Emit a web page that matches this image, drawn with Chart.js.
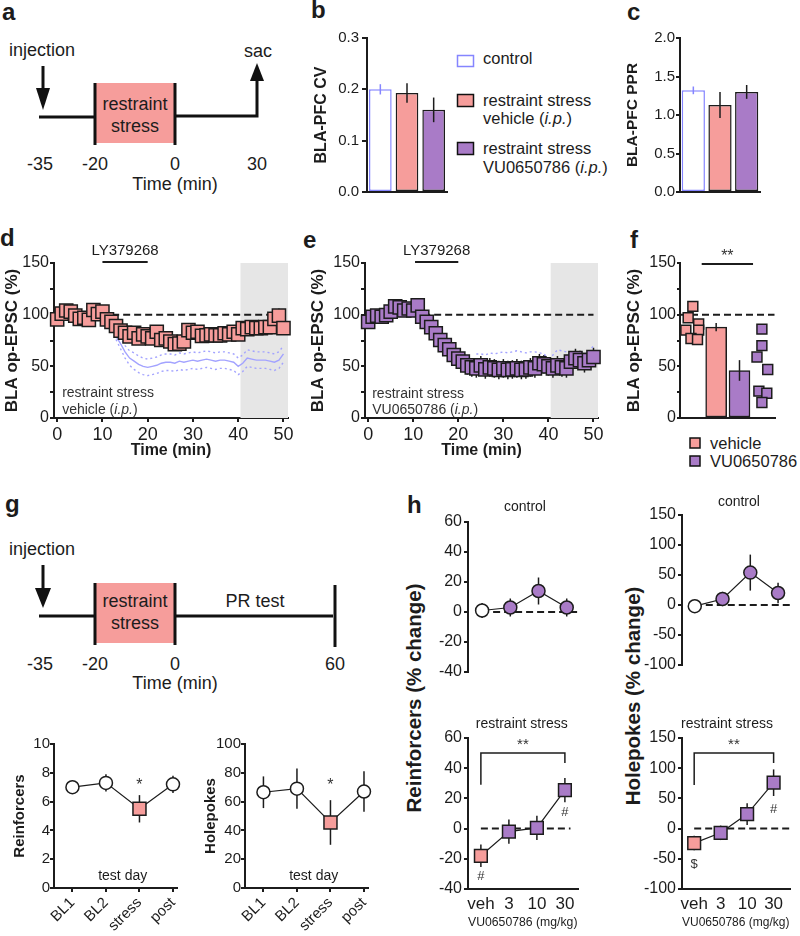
<!DOCTYPE html>
<html>
<head>
<meta charset="utf-8">
<script src="https://cdn.jsdelivr.net/npm/chart.js@4/dist/chart.umd.min.js"></script>
<style>
  body { margin: 0; background: #fff; }
  #page { position: relative; width: 800px; height: 936px; overflow: hidden; }
  .box { position: absolute; }
  svg text { font-family: 'Liberation Sans', Arial, sans-serif; fill: #1c1c1c; }
</style>
</head>
<body>
<div id="page">
<svg width="800" height="936" style="position:absolute;left:0;top:0">
  <!-- panel letters -->
  <g font-size="24" font-weight="bold">
    <text x="2" y="20">a</text>
    <text x="311" y="18">b</text>
    <text x="627" y="20">c</text>
    <text x="0" y="246">d</text>
    <text x="303" y="248">e</text>
    <text x="630" y="248">f</text>
    <text x="5" y="512">g</text>
    <text x="407" y="513">h</text>
  </g>

  <!-- a: timeline -->
  <rect x="96" y="83" width="79" height="60" fill="#f69d9b"/>
  <g stroke="#111" stroke-width="3" fill="none">
    <line x1="43" y1="66" x2="43" y2="92"/>
    <line x1="39" y1="117" x2="95" y2="117"/>
    <line x1="95" y1="83" x2="95" y2="145"/>
    <line x1="175" y1="83" x2="175" y2="145"/>
    <polyline points="175,116 257,116 257,78"/>
  </g>
  <polygon points="36,88 50,88 43,110" fill="#111"/>
  <polygon points="250,81 264,81 257,63" fill="#111"/>
  <g font-size="18" text-anchor="middle">
    <text x="42" y="56">injection</text>
    <text x="258" y="57">sac</text>
    <text x="135" y="110">restraint</text>
    <text x="135" y="132">stress</text>
    <text x="40" y="170">-35</text>
    <text x="95" y="170">-20</text>
    <text x="175" y="170">0</text>
    <text x="257" y="170">30</text>
    <text x="175" y="190">Time (min)</text>
  </g>

  <!-- b legend -->
  <g font-size="16.5">
    <rect x="457.5" y="55.5" width="16" height="11" fill="#fff" stroke="#8585ff" stroke-width="1.5"/>
    <text x="483" y="64">control</text>
    <rect x="457.5" y="94.5" width="16" height="12" fill="#f69d9b" stroke="#111" stroke-width="1.5"/>
    <text x="483" y="106">restraint stress</text>
    <text x="483" y="124">vehicle (<tspan font-style="italic">i.p.</tspan>)</text>
    <rect x="457.5" y="142.5" width="16" height="12" fill="#a97bc7" stroke="#111" stroke-width="1.5"/>
    <text x="483" y="154">restraint stress</text>
    <text x="483" y="173">VU0650786 (<tspan font-style="italic">i.p.</tspan>)</text>
  </g>

  <!-- f legend -->
  <g font-size="16.5">
    <rect x="690" y="438" width="10" height="10" fill="#f69d9b" stroke="#111" stroke-width="1.5"/>
    <text x="710" y="449">vehicle</text>
    <rect x="690" y="456" width="10" height="10" fill="#a97bc7" stroke="#111" stroke-width="1.5"/>
    <text x="710" y="467">VU0650786</text>
  </g>

  <!-- g: timeline -->
  <rect x="96" y="583" width="79" height="60" fill="#f69d9b"/>
  <g stroke="#111" stroke-width="3" fill="none">
    <line x1="43" y1="565" x2="43" y2="592"/>
    <line x1="39" y1="616" x2="95" y2="616"/>
    <line x1="95" y1="583" x2="95" y2="645"/>
    <line x1="175" y1="583" x2="175" y2="645"/>
    <line x1="175" y1="616" x2="333" y2="616"/>
    <line x1="335" y1="585" x2="335" y2="647"/>
  </g>
  <polygon points="35,588 51,588 43,608" fill="#111"/>
  <g font-size="18" text-anchor="middle">
    <text x="42" y="555">injection</text>
    <text x="135" y="607">restraint</text>
    <text x="135" y="629">stress</text>
    <text x="255" y="607">PR test</text>
    <text x="40" y="670">-35</text>
    <text x="95" y="670">-20</text>
    <text x="175" y="670">0</text>
    <text x="335" y="670">60</text>
    <text x="175" y="689">Time (min)</text>
  </g>

  <!-- h: shared y titles -->
  <g font-size="20.5" font-weight="bold" text-anchor="middle">
    <text transform="translate(421,698) rotate(-90)">Reinforcers (% change)</text>
    <text transform="translate(640,696) rotate(-90)">Holepokes (% change)</text>
  </g>
</svg>
</div>

<script>
// ---------- data ----------
// b, c: basal transmission
const groupNames = ['control', 'restraint stress vehicle (i.p.)', 'restraint stress VU0650786 (i.p.)'];
const cvMean = [0.200, 0.193, 0.160];
const cvSem = [0.010, 0.019, 0.024];
const pprMean = [1.32, 1.13, 1.30];
const pprSem = [0.05, 0.17, 0.09];
const cvTicks = [0, 0.1, 0.2, 0.3];
const pprTicks = [0, 0.5, 1, 1.5, 2];

// d, e: time course
const timeMin = [0, 1, 2, 3, 4, 5, 6, 7, 8, 9, 10, 11, 12, 13, 14, 15, 16, 17, 18, 19, 20, 21, 22, 23, 24, 25,
  26, 27, 28, 29, 30, 31, 32, 33, 34, 35, 36, 37, 38, 39, 40, 41, 42, 43, 44, 45, 46, 47, 48, 49, 50];
const vehicleEpsc = [95.5, 101, 104, 103, 99, 96, 97, 95, 104.5, 100.5, 103, 95.5, 93, 89, 84.5, 82.5, 79, 82.5,
  77, 81, 79, 77, 83.5, 75.5, 77, 74, 71.5, 72, 74, 85, 82.5, 83.5, 79.5, 80, 81, 80, 80, 82, 81, 83.5, 81,
  87, 86, 88, 87, 87, 88, 88, 96, 99, 87];
const vehicleEpscSem = [4, 4, 5, 4, 4, 4, 5, 4, 5, 4, 4, 4, 4, 4, 4, 4, 4, 4, 4, 4, 4, 4, 4, 4, 4, 4, 4, 4, 4, 5,
  4, 4, 4, 4, 4, 4, 4, 4, 4, 4, 4, 4, 4, 4, 4, 4, 4, 4, 6, 7, 5];
const vuEpsc = [93, 98, 99, 98, 99.5, 103, 108, 107, 104, 106, 104, 109, 98, 93, 88, 82, 75.5, 70.5, 66.5, 61,
  57.5, 54.5, 51, 49, 48, 51, 47, 49, 48, 46.5, 48, 46.5, 47, 48, 46.5, 47, 49, 48, 53, 52, 50, 48, 51, 49, 48,
  54.5, 58, 56, 53, 56, 59];
const vuEpscSem = [5, 5, 5, 5, 5, 5, 5, 5, 5, 5, 5, 5, 6, 6, 6, 6, 7, 7, 7, 8, 8, 8, 9, 9, 9, 9, 9, 9, 9, 9, 9,
  9, 9, 9, 9, 9, 9, 9, 9, 9, 9, 9, 9, 9, 9, 9, 9, 9, 9, 9, 9];
const controlTime = [13, 14, 15, 16, 17, 18, 19, 20, 21, 22, 23, 24, 25, 26, 27, 28, 29, 30, 31, 32, 33, 34, 35,
  36, 37, 38, 39, 40, 41, 42, 43, 44, 45, 46, 47, 48, 49, 50];
const controlEpsc = [79, 72, 64, 58, 55, 52, 50, 49, 50, 51, 53, 54, 54, 53, 55, 54, 55, 56, 55, 56, 57, 56, 55,
  56, 56, 55, 54, 50, 53, 58, 57, 56, 56, 56, 55, 54, 56, 62];
const controlEpscSem = [3, 5, 6, 7, 8, 8, 8, 8, 8, 8, 8, 8, 8, 8, 8, 8, 8, 8, 8, 8, 8, 8, 8, 8, 8, 8, 8, 8, 8, 8,
  8, 8, 8, 8, 8, 8, 8, 8];
const timeTicks = [0, 10, 20, 30, 40, 50];
const epscTicks = [0, 25, 50, 75, 100, 125, 150];

// f: last 10 min per cell
const vehicleCells = [108, 97, 91, 85, 85, 77, 76];
const vuCells = [86, 70, 59, 47, 26, 24, 15];
const summaryMean = [88, 46];
const summarySem = [4, 10];

// g: progressive ratio
const testDays = ['BL1', 'BL2', 'stress', 'post'];
const reinfMean = [7.0, 7.3, 5.5, 7.2];
const reinfSem = [0.45, 0.6, 0.95, 0.6];
const holeMean = [66.5, 69, 45.5, 67];
const holeSem = [11, 14, 15.5, 14];
const reinfTicks = [0, 2, 4, 6, 8, 10];
const holeTicks = [0, 20, 40, 60, 80, 100];

// h: dose response
const doses = ['veh', '3', '10', '30'];
const reinfCtrlMean = [1, 3, 14, 3];
const reinfCtrlSem = [5, 6, 9, 6];
const holeCtrlMean = [-2, 10, 54, 20];
const holeCtrlSem = [4, 12, 30, 17];
const reinfStressMean = [-18, -2, 0.5, 25.5];
const reinfStressSem = [7.5, 8, 8, 8];
const holeStressMean = [-24, -7, 24, 76];
const holeStressSem = [12, 12, 18, 22];
const pctTicksR = [-40, -20, 0, 20, 40, 60];
const pctTicksH = [-100, -50, 0, 50, 100, 150];

// ---------- styles ----------
const FONT = "'Liberation Sans', Arial, sans-serif";
const INK = '#1c1c1c';
const PINK = '#f69d9b';
const PURPLE = '#a97bc7';
const BLUE = '#8585ff';
const BLUE_LINE = '#a3a3ff';
const SHADE = '#e6e6e6';
const DASH = [7, 4];

// jitter for the single-cell squares in f (layout only)
const vehJitter = [0, -0.2, 0.25, -0.3, 0.25, -0.08, 0.2];
const vuJitter = [-0.04, -0.04, -0.25, 0.21, -0.17, 0.17, -0.04];

Chart.defaults.font.family = FONT;
Chart.defaults.color = INK;

const xy = (xs, ys) => ys.map((v, i) => ({x: xs[i], y: v}));
const idx = arr => arr.map((_, i) => i);

function drawRich(ctx, parts, x, y, align, size, color) {
  ctx.save();
  ctx.fillStyle = color;
  ctx.textBaseline = 'middle';
  ctx.textAlign = 'left';
  const fontOf = p => (p[1] || 'normal') + ' ' + size + 'px ' + FONT;
  let w = 0;
  parts.forEach(p => { ctx.font = fontOf(p); w += ctx.measureText(p[0]).width; });
  let cx = align === 'left' ? x : align === 'right' ? x - w : x - w / 2;
  parts.forEach(p => {
    ctx.font = fontOf(p);
    ctx.fillText(p[0], cx, y);
    cx += ctx.measureText(p[0]).width;
  });
  ctx.restore();
}

// shaded boxes, lines and labels placed in data units
const notes = {
  id: 'notes',
  beforeDatasetsDraw(chart, args, opts) {
    const {ctx, scales: {x, y}} = chart;
    ctx.save();
    (opts.shades || []).forEach(s => {
      const x1 = x.getPixelForValue(s.x1), x2 = x.getPixelForValue(s.x2);
      const y1 = y.getPixelForValue(s.y1), y2 = y.getPixelForValue(s.y2);
      ctx.fillStyle = s.color;
      ctx.fillRect(x1, y2, x2 - x1, y1 - y2);
    });
    (opts.lines || []).forEach(l => {
      ctx.strokeStyle = l.color || INK;
      ctx.lineWidth = l.width || 2;
      ctx.setLineDash(l.dash || []);
      ctx.beginPath();
      l.pts.forEach((p, k) => {
        const px = x.getPixelForValue(p[0]), py = y.getPixelForValue(p[1]);
        if (k) ctx.lineTo(px, py); else ctx.moveTo(px, py);
      });
      ctx.stroke();
    });
    ctx.restore();
  },
  afterDatasetsDraw(chart, args, opts) {
    const {ctx, scales: {x, y}} = chart;
    (opts.texts || []).forEach(t => {
      drawRich(ctx, t.parts, x.getPixelForValue(t.x), y.getPixelForValue(t.y),
        t.align || 'center', t.size || 14, t.color || INK);
    });
  }
};

function drawErrors(chart, behind) {
  const ctx = chart.ctx;
  chart.data.datasets.forEach((ds, i) => {
    if (!ds.err || !!ds.errBehind !== behind) return;
    const meta = chart.getDatasetMeta(i);
    const ys = chart.scales[meta.yAxisID];
    ctx.save();
    ctx.lineWidth = ds.errWidth || 1.5;
    meta.data.forEach((el, j) => {
      const v = meta.controller.getParsed(j).y;
      const c = ds.errColor || INK;
      ctx.strokeStyle = Array.isArray(c) ? c[j] : c;
      ctx.beginPath();
      ctx.moveTo(el.x, ys.getPixelForValue(v - ds.err[j]));
      ctx.lineTo(el.x, ys.getPixelForValue(v + ds.err[j]));
      ctx.stroke();
    });
    ctx.restore();
  });
}

const errorBars = {
  id: 'errorBars',
  beforeDatasetsDraw(chart) { drawErrors(chart, true); },
  afterDatasetsDraw(chart) { drawErrors(chart, false); }
};

Chart.register(notes, errorBars);

// ---------- axis helpers ----------
function fixedTicks(values) {
  return s => { s.ticks = values.map(v => ({value: v})); };
}

function titleOpt(text, size, weight) {
  if (!text) return {display: false};
  return {display: true, text, padding: 0, color: INK, font: {size, weight: weight || 'bold', lineHeight: 1}};
}

function linY(min, max, values, o) {
  return {
    type: 'linear', min, max,
    afterBuildTicks: fixedTicks(values),
    ticks: {font: {size: o.size || 16}, padding: o.pad ?? 2, color: INK, callback: o.fmt || (v => v)},
    grid: {display: true, drawOnChartArea: false, tickLength: o.tick ?? 4, lineWidth: 2, color: INK},
    border: {display: true, width: 2, color: INK},
    title: titleOpt(o.title, o.tsize || 16)
  };
}

function linX(min, max, values, o) {
  return {
    type: 'linear', min, max,
    afterBuildTicks: fixedTicks(values),
    ticks: {display: o.labels !== false, font: {size: o.size || 16}, padding: o.pad ?? 2, color: INK,
      maxRotation: o.rot || 0, minRotation: o.rot || 0, autoSkip: false, callback: o.fmt || (v => v)},
    grid: {display: !!o.tick, drawOnChartArea: false, tickLength: o.tick || 0, lineWidth: 2, color: INK},
    border: {display: o.border !== false, width: 2, color: INK},
    title: titleOpt(o.title, o.tsize || 16, o.tweight)
  };
}

const catBare = {
  type: 'category',
  ticks: {display: false},
  grid: {display: false},
  border: {display: true, width: 2, color: INK}
};

// area = plot area in page pixels, m = room around it for axes and notes
function makeChart(area, m, config) {
  const w = area.r - area.l + m.left + m.right;
  const h = area.b - area.t + m.top + m.bottom;
  const div = document.createElement('div');
  div.className = 'box';
  div.style.left = (area.l - m.left) + 'px';
  div.style.top = (area.t - m.top) + 'px';
  div.style.width = w + 'px';
  div.style.height = h + 'px';
  const cv = document.createElement('canvas');
  cv.width = w;
  cv.height = h;
  div.appendChild(cv);
  document.getElementById('page').appendChild(div);
  const o = config.options;
  o.responsive = false;
  o.animation = false;
  o.events = [];
  o.layout = {padding: {top: m.top, right: m.right, left: 0, bottom: 0}};
  o.plugins = Object.assign({legend: {display: false}, tooltip: {enabled: false}}, o.plugins);
  o.scales.x.afterFit = s => { s.height = m.bottom; };
  o.scales.y.afterFit = s => { s.width = m.left; };
  return new Chart(cv, config);
}

const epscLabel = v => (v % 50 ? '' : v);
const pts = (bg, style, r) => ({pointBackgroundColor: bg, pointStyle: style, pointRadius: r,
  pointBorderColor: INK, pointBorderWidth: 1.5, clip: false});

// ---------- b ----------
makeChart({l: 367, t: 38, r: 447, b: 192}, {left: 53, top: 14, right: 6, bottom: 12}, {
  type: 'bar',
  data: {labels: groupNames, datasets: [{
    data: cvMean, err: cvSem, errColor: [BLUE, INK, INK],
    backgroundColor: ['#ffffff', PINK, PURPLE], borderColor: [BLUE, INK, INK],
    borderWidth: 1.5, borderSkipped: false, categoryPercentage: 1, barPercentage: 0.85
  }]},
  options: {scales: {
    x: catBare,
    y: linY(0, 0.3, cvTicks, {size: 15, tick: 5, pad: 3, fmt: v => v.toFixed(1), title: 'BLA-PFC CV'})
  }}
});

// ---------- c ----------
makeChart({l: 680, t: 38, r: 760, b: 192}, {left: 55, top: 14, right: 6, bottom: 12}, {
  type: 'bar',
  data: {labels: groupNames, datasets: [{
    data: pprMean, err: pprSem, errColor: [BLUE, INK, INK],
    backgroundColor: ['#ffffff', PINK, PURPLE], borderColor: [BLUE, INK, INK],
    borderWidth: 1.5, borderSkipped: false, categoryPercentage: 1, barPercentage: 0.87
  }]},
  options: {scales: {
    x: catBare,
    y: linY(0, 2, pprTicks, {size: 15, tick: 4, pad: 1, fmt: v => v.toFixed(1), title: 'BLA-PFC PPR', tsize: 15.5})
  }}
});

// ---------- d ----------
makeChart({l: 54, t: 263, r: 288, b: 418}, {left: 50, top: 32, right: 14, bottom: 41}, {
  type: 'scatter',
  data: {datasets: [
    Object.assign({data: xy(timeMin, vehicleEpsc), err: vehicleEpscSem, errBehind: true, order: 0}, pts(PINK, 'rect', 9.3)),
    {data: xy(controlTime, controlEpsc), showLine: true, pointRadius: 0, borderColor: BLUE_LINE, borderWidth: 1.4, order: 1},
    {data: xy(controlTime, controlEpsc.map((v, i) => v + controlEpscSem[i])), showLine: true, pointRadius: 0,
      borderColor: BLUE_LINE, borderWidth: 1.4, borderDash: [2, 3], order: 2},
    {data: xy(controlTime, controlEpsc.map((v, i) => v - controlEpscSem[i])), showLine: true, pointRadius: 0,
      borderColor: BLUE_LINE, borderWidth: 1.4, borderDash: [2, 3], order: 3}
  ]},
  options: {
    scales: {
      x: linX(-0.7, 51, timeTicks, {size: 18, tick: 4, pad: 2, title: 'Time (min)'}),
      y: linY(0, 150, epscTicks, {size: 16, tick: 4, pad: 1, fmt: epscLabel, title: 'BLA op-EPSC (%)', tsize: 17})
    },
    plugins: {notes: {
      shades: [{x1: 40.5, x2: 51, y1: 0, y2: 150, color: SHADE}],
      lines: [{pts: [[0, 100], [50, 100]], dash: DASH}, {pts: [[10, 151], [20, 151]], width: 2}],
      texts: [
        {x: 15, y: 162, parts: [['LY379268']], size: 15},
        {x: 1.1, y: 24, parts: [['restraint stress']], align: 'left', size: 14, color: '#333'},
        {x: 1.1, y: 7.7, parts: [['vehicle ('], ['i.p.', 'italic'], [')']], align: 'left', size: 14, color: '#333'}
      ]
    }}
  }
});

// ---------- e ----------
makeChart({l: 365, t: 263, r: 598, b: 418}, {left: 55, top: 32, right: 14, bottom: 41}, {
  type: 'scatter',
  data: {datasets: [
    Object.assign({data: xy(timeMin, vuEpsc), err: vuEpscSem, errBehind: true, order: 0}, pts(PURPLE, 'rect', 9.3)),
    {data: xy(controlTime.slice(11), controlEpsc.slice(11).map((v, i) => v + controlEpscSem[i + 11])),
      showLine: true, pointRadius: 0, borderColor: BLUE_LINE, borderWidth: 1.4, borderDash: [2, 3], order: 1}
  ]},
  options: {
    scales: {
      x: linX(-0.7, 51, timeTicks, {size: 18, tick: 4, pad: 2, title: 'Time (min)'}),
      y: linY(0, 150, epscTicks, {size: 16, tick: 4, pad: 1, fmt: epscLabel, title: 'BLA op-EPSC (%)', tsize: 17})
    },
    plugins: {notes: {
      shades: [{x1: 40.5, x2: 51, y1: 0, y2: 150, color: SHADE}],
      lines: [{pts: [[0, 100], [50, 100]], dash: DASH}, {pts: [[10.4, 151], [20, 151]], width: 2}],
      texts: [
        {x: 15.2, y: 162, parts: [['LY379268']], size: 15},
        {x: 0.9, y: 23, parts: [['restraint stress']], align: 'left', size: 14, color: '#333'},
        {x: 0.9, y: 7.7, parts: [['VU0650786 ('], ['i.p.', 'italic'], [')']], align: 'left', size: 14, color: '#333'}
      ]
    }}
  }
});

// ---------- f ----------
makeChart({l: 680, t: 263, r: 777, b: 418}, {left: 54, top: 26, right: 6, bottom: 12}, {
  type: 'scatter',
  data: {datasets: [
    {type: 'bar', data: xy([1, 2], summaryMean), err: summarySem, backgroundColor: [PINK, PURPLE],
      borderColor: INK, borderWidth: 1.5, borderSkipped: false, barThickness: 21},
    Object.assign({data: xy(vehJitter.map(d => 0 + d), vehicleCells)}, pts(PINK, 'rect', 7)),
    Object.assign({data: xy(vuJitter.map(d => 3 + d), vuCells)}, pts(PURPLE, 'rect', 7))
  ]},
  options: {
    scales: {
      x: linX(-0.55, 3.5, [], {labels: false}),
      y: linY(0, 150, epscTicks, {size: 16, tick: 3, pad: 1, fmt: epscLabel, title: 'BLA op-EPSC (%)', tsize: 17})
    },
    plugins: {notes: {
      lines: [{pts: [[-0.55, 100], [3.5, 100]], dash: DASH}, {pts: [[0.38, 149], [2.58, 149]], width: 2}],
      texts: [{x: 1.48, y: 156, parts: [['**']], size: 16, color: '#333'}]
    }}
  }
});

// ---------- g ----------
function prChart(area, left, mean, sem, ticks, max, title, starY, dayY) {
  makeChart(area, {left, top: 14, right: 8, bottom: 936 - area.b}, {
    type: 'scatter',
    data: {datasets: [Object.assign({
      data: xy(idx(testDays), mean), err: sem, errBehind: true, showLine: true,
      borderColor: INK, borderWidth: 1.2
    }, pts(['#fff', '#fff', PINK, '#fff'], ['circle', 'circle', 'rect', 'circle'], [6.5, 6.5, 9.2, 6.5]))]},
    options: {
      scales: {
        x: linX(-0.55, 3.13, idx(testDays), {size: 15, tick: 4, pad: 2, rot: 45, fmt: v => testDays[v]}),
        y: linY(0, max, ticks, {size: 15, tick: 4, pad: 0, title, tsize: 15})
      },
      plugins: {notes: {texts: [
        {x: 2, y: starY, parts: [['*']], size: 16, color: '#333'},
        {x: 1.5, y: dayY, parts: [['test day']], size: 14}
      ]}}
    }
  });
}
prChart({l: 54, t: 744, r: 180, b: 888}, 42, reinfMean, reinfSem, reinfTicks, 10, 'Reinforcers', 7.1, 0.8);
prChart({l: 245, t: 744, r: 371, b: 888}, 42, holeMean, holeSem, holeTicks, 100, 'Holepokes', 71, 8);

// ---------- h ----------
function doseChart(area, m, spec) {
  const lower = spec.lower;
  makeChart(area, m, {
    type: 'scatter',
    data: {datasets: [Object.assign({
      data: xy(idx(doses), spec.mean), err: spec.sem, errBehind: true, showLine: true,
      borderColor: INK, borderWidth: 1.2
    }, lower
      ? pts([PINK, PURPLE, PURPLE, PURPLE], 'rect', 9)
      : pts(['#fff', PURPLE, PURPLE, PURPLE], 'circle', 6.5))]},
    options: {
      scales: {
        x: lower
          ? linX(spec.xmin, spec.xmax, idx(doses), {size: 17, pad: 5, fmt: v => doses[v],
              title: 'VU0650786 (mg/kg)', tsize: 13.5, tweight: 'normal'})
          : linX(spec.xmin, spec.xmax, [], {labels: false, border: false}),
        y: linY(spec.min, spec.max, spec.ticks, {size: 16, tick: 4, pad: 2})
      },
      plugins: {notes: {lines: spec.lines, texts: spec.texts}}
    }
  });
}

doseChart({l: 468, t: 522, r: 578, b: 672}, {left: 36, top: 24, right: 8, bottom: 12}, {
  mean: reinfCtrlMean, sem: reinfCtrlSem, min: -40, max: 60, ticks: pctTicksR, xmin: -0.5, xmax: 3.4,
  lines: [{pts: [[0, 0], [3.4, 0]], dash: DASH}],
  texts: [{x: 1.52, y: 70, parts: [['control']], size: 14}]
});
doseChart({l: 682, t: 515, r: 792, b: 665}, {left: 44, top: 24, right: 6, bottom: 12}, {
  mean: holeCtrlMean, sem: holeCtrlSem, min: -100, max: 150, ticks: pctTicksH, xmin: -0.46, xmax: 3.43,
  lines: [{pts: [[0, 0], [3.43, 0]], dash: DASH}],
  texts: [{x: 1.59, y: 172, parts: [['control']], size: 14}]
});
doseChart({l: 468, t: 738, r: 580, b: 889}, {left: 36, top: 24, right: 8, bottom: 40}, {
  lower: true, mean: reinfStressMean, sem: reinfStressSem, min: -40, max: 60, ticks: pctTicksR,
  xmin: -0.46, xmax: 3.45,
  lines: [{pts: [[0, 0], [3.2, 0]], dash: DASH}, {pts: [[0, 29], [0, 50], [3, 50], [3, 43.5]], width: 1.5}],
  texts: [
    {x: 1.46, y: 69.3, parts: [['restraint stress']], size: 14},
    {x: 1.5, y: 55.5, parts: [['**']], size: 15, color: '#333'},
    {x: 0, y: -32, parts: [['#']], size: 13, color: '#333'},
    {x: 3, y: 11, parts: [['#']], size: 13, color: '#333'}
  ]
});
doseChart({l: 682, t: 738, r: 797, b: 889}, {left: 44, top: 24, right: 3, bottom: 40}, {
  lower: true, mean: holeStressMean, sem: holeStressSem, min: -100, max: 150, ticks: pctTicksH,
  xmin: -0.46, xmax: 3.6,
  lines: [{pts: [[0, 0], [3.6, 0]], dash: DASH}, {pts: [[0, 72], [0, 125], [3, 125], [3, 108.6]], width: 1.5}],
  texts: [
    {x: 1.24, y: 173, parts: [['restraint stress']], size: 14},
    {x: 1.5, y: 138, parts: [['**']], size: 15, color: '#333'},
    {x: 0, y: -60, parts: [['$']], size: 13, color: '#333'},
    {x: 3, y: 31, parts: [['#']], size: 13, color: '#333'}
  ]
});
</script>
</body>
</html>
